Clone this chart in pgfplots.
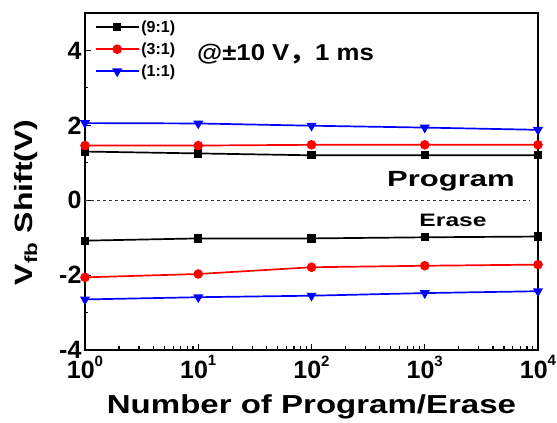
\documentclass[border=0pt]{standalone}
\usepackage{graphicx}
\usepackage{pgfplots}
\pgfplotsset{compat=1.18}
\usepackage{fontspec}
\setmainfont{Liberation Sans}
\newfontfamily\cjk{Noto Sans CJK SC}
\newcommand{\tp}[1]{10\raisebox{0.5em}{\fontsize{15}{15}\selectfont #1}}
\begin{document}
\begin{tikzpicture}
\path[use as bounding box] (-85pt,-73pt) rectangle (472pt,350pt);
\begin{axis}[
  at={(0,0)}, anchor=south west,
  scale only axis, width=453pt, height=337pt,
  xmode=log, xmin=1, xmax=10000,
  ymin=-4, ymax=5,
  xtick={1,10,100,1000,10000},
  xticklabels={\tp{0},\tp{1},\tp{2},\tp{3},\tp{4}},
  ytick={-4,-2,0,2,4},
  yticklabels={-4,-2,0,2,4},
  minor ytick={-3,-1,1,3},
  xtick pos=bottom, ytick pos=left,
  tick align=inside,
  major tick length=6pt, minor tick length=3.5pt,
  axis line style={line width=1.8pt},
  every tick/.style={line width=1.2pt, black},
  tick label style={font=\fontsize{25}{25}\selectfont\bfseries},
  xticklabel style={yshift=-2pt},
  xlabel={\scalebox{1.27}[1]{\fontsize{26}{26}\selectfont\bfseries Number of Program/Erase}},
  ylabel={\scalebox{1.28}[1]{\fontsize{25}{25}\selectfont\bfseries V\textsubscript{fb} Shift(V)}},
  xlabel style={at={(0.5,-0.187)}, anchor=base},
  ylabel style={at={(-0.1148,0.438)}, anchor=base},
  legend style={at={(0.015,0.99)}, anchor=north west, draw=none, fill=none,
    font=\fontsize{16}{16}\selectfont\bfseries, row sep=5pt},
  legend cell align=left,
  legend image code/.code={\draw[#1] (0pt,0pt) -- (0.5cm,0pt) -- (1.5cm,0pt); \draw[#1, only marks] plot coordinates {(0.75cm,0pt)};},
]
\addplot[black, line width=1.7pt, mark=square*, mark size=3.3pt] coordinates {(1,1.30)(10,1.25)(100,1.20)(1000,1.20)(10000,1.20)};
\addlegendentry{(9:1)}
\addplot[red, line width=1.7pt, mark=*, mark size=3.9pt] coordinates {(1,1.46)(10,1.46)(100,1.48)(1000,1.48)(10000,1.48)};
\addlegendentry{(3:1)}
\addplot[blue, line width=1.7pt, mark=triangle*, mark size=4.2pt, mark options={rotate=180}] coordinates {(1,2.06)(10,2.05)(100,1.99)(1000,1.94)(10000,1.88)};
\addlegendentry{(1:1)}
\addplot[black, line width=1.7pt, mark=square*, mark size=3.3pt, forget plot] coordinates {(1,-1.08)(10,-1.02)(100,-1.02)(1000,-0.99)(10000,-0.97)};
\addplot[red, line width=1.7pt, mark=*, mark size=3.9pt, forget plot] coordinates {(1,-2.06)(10,-1.97)(100,-1.79)(1000,-1.75)(10000,-1.72)};
\addplot[blue, line width=1.7pt, mark=triangle*, mark size=4.2pt, mark options={rotate=180}, forget plot] coordinates {(1,-2.65)(10,-2.59)(100,-2.55)(1000,-2.48)(10000,-2.43)};
\addplot[black!80, dashed, thin, forget plot] coordinates {(1,0)(8500,0)};
\node[anchor=base west, inner sep=0pt] at (axis cs:9.75,3.72) {\scalebox{1.12}[1]{\fontsize{23}{23}\selectfont\bfseries @±10 V{\cjk ，}1 ms}};
\node[anchor=base, inner sep=0pt] at (axis cs:1706,0.36) {\scalebox{1.41}[1]{\fontsize{22}{22}\selectfont\bfseries Program}};
\node[anchor=base, inner sep=0pt] at (axis cs:1778,-0.71) {\scalebox{1.37}[1]{\fontsize{18}{18}\selectfont\bfseries Erase}};
\end{axis}
\end{tikzpicture}
\end{document}
